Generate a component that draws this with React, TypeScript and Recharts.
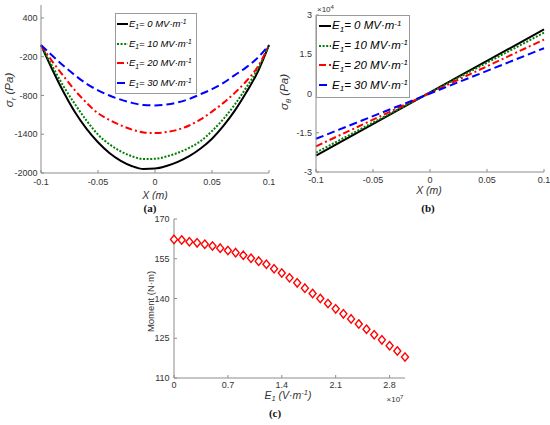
import React from 'react';
import { LineChart, Line, XAxis, YAxis, Legend, ScatterChart, Scatter, Label } from 'recharts';

// ---------- Panel (a): radial stress ----------
const positionA = [-0.1, -0.09, -0.08, -0.07, -0.06, -0.05, -0.04, -0.03, -0.02, -0.01, 0, 0.01, 0.02, 0.03, 0.04, 0.05, 0.06, 0.07, 0.08, 0.09, 0.1];
const sigmaR_E0 = [-20, -402, -755, -1065, -1318, -1525, -1690, -1812, -1895, -1938, -1932, -1892, -1828, -1740, -1622, -1469, -1270, -1035, -755, -440, -20];
const sigmaR_E10 = [-20, -350, -665, -940, -1190, -1405, -1555, -1665, -1742, -1784, -1780, -1745, -1688, -1610, -1506, -1350, -1165, -940, -680, -395, -20];
const sigmaR_E20 = [-20, -275, -505, -725, -915, -1075, -1180, -1262, -1330, -1372, -1382, -1367, -1330, -1265, -1170, -1050, -915, -760, -580, -360, -20];
const sigmaR_E30 = [-20, -185, -345, -490, -620, -720, -800, -865, -915, -949, -954, -939, -908, -855, -780, -703, -606, -485, -365, -218, -20];
const xTicksA = [-0.1, -0.05, 0, 0.05, 0.1];
const yTicksA = [-2000, -1400, -800, -200, 400];

// ---------- Panel (b): hoop stress ----------
const positionB = [-0.1, 0, 0.1];
const sigmaT_E0 = [-23700, 400, 24500];
const sigmaT_E10 = [-22570, 330, 23230];
const sigmaT_E20 = [-20200, 200, 20600];
const sigmaT_E30 = [-17300, 0, 17300];
const xTicksB = [-0.1, -0.05, 0, 0.05, 0.1];
const yTicksB = [-30000, -15000, 0, 15000, 30000];

// ---------- Panel (c): moment ----------
const fieldE1 = [0, 1e6, 2e6, 3e6, 4e6, 5e6, 6e6, 7e6, 8e6, 9e6, 10e6, 11e6, 12e6, 13e6, 14e6, 15e6, 16e6, 17e6, 18e6, 19e6, 20e6, 21e6, 22e6, 23e6, 24e6, 25e6, 26e6, 27e6, 28e6, 29e6, 30e6];
const momentValues = [162.3, 162.1, 161.4, 161.0, 160.5, 159.8, 159.0, 158.1, 157.3, 156.3, 155.2, 154.1, 152.9, 151.2, 149.6, 147.8, 145.9, 143.9, 141.9, 140.0, 138.1, 136.1, 134.2, 132.3, 130.4, 128.4, 126.3, 124.4, 122.2, 120.2, 117.9];
const xTicksC = [0, 7e6, 14e6, 21e6, 28e6];
const yTicksC = [110, 125, 140, 155, 170];

const fieldLabels = ['0', '10', '20', '30'];

const dataA = positionA.map((x, i) => ({ x, e0: sigmaR_E0[i], e10: sigmaR_E10[i], e20: sigmaR_E20[i], e30: sigmaR_E30[i] }));
const dataB = positionB.map((x, i) => ({ x, e0: sigmaT_E0[i], e10: sigmaT_E10[i], e20: sigmaT_E20[i], e30: sigmaT_E30[i] }));
const dataC = fieldE1.map((e, i) => ({ e, m: momentValues[i] }));

const seriesStyle = [
  { key: 'e0', color: '#000000', dash: undefined as string | undefined },
  { key: 'e10', color: '#008000', dash: '2 1.6' },
  { key: 'e20', color: '#FF0000', dash: '7 3 2 3' },
  { key: 'e30', color: '#0000FF', dash: '8 4' },
];

const SANS = '"Liberation Sans", Arial, Helvetica, sans-serif';
const SERIF = '"Liberation Serif", "Times New Roman", serif';
const AXIS = '#8c8c8c';
const TXT = '#333333';
const tickStyle = { fontSize: 9, fill: TXT, fontFamily: SANS };

const LegendBox = ({ fontSize, rowH, lineX, lineW, textGap }: { fontSize: number; rowH: number; lineX: number; lineW: number; textGap: number }) => (
  <div style={{ width: '100%', height: '100%', boxSizing: 'border-box', border: '1px solid #9a9a9a', background: '#fff' }}>
    {seriesStyle.map((s, i) => (
      <div key={s.key} style={{ height: rowH, display: 'flex', alignItems: 'center', paddingLeft: lineX }}>
        <svg width={lineW} height={6} style={{ flex: 'none' }}>
          <line x1={0} y1={3} x2={lineW} y2={3} stroke={s.color} strokeWidth={2} strokeDasharray={s.dash} />
        </svg>
        <span style={{ fontFamily: SANS, fontStyle: 'italic', fontSize, color: '#000', whiteSpace: 'nowrap', lineHeight: 1, marginLeft: textGap }}>
          E<span style={{ fontSize: '0.7em', position: 'relative', top: '0.35em' }}>1</span>= {fieldLabels[i]} MV·m<span style={{ fontSize: '0.7em', position: 'relative', top: '-0.45em' }}>-1</span>
        </span>
      </div>
    ))}
  </div>
);

export default function App() {
  return (
    <div style={{ position: 'absolute', left: 0, top: 0, width: 550, height: 425, background: '#fff', overflow: 'hidden' }}>
      {/* Panel (a) */}
      <div style={{ position: 'absolute', left: 0, top: 0 }}>
        <LineChart width={275} height={200} data={dataA} margin={{ top: 5, right: 6, bottom: 0, left: 0 }}>
          <XAxis dataKey="x" type="number" domain={[-0.1, 0.1]} ticks={xTicksA} interval={0} tick={tickStyle}
            tickSize={-3} tickMargin={9} height={27} axisLine={{ stroke: AXIS }} tickLine={{ stroke: AXIS }}>
            <Label content={() => (
              <text x={155} y={199} textAnchor="middle" fontFamily={SANS} fontStyle="italic" fontSize={10.5} fill={TXT}>X (m)</text>
            )} />
          </XAxis>
          <XAxis xAxisId="top" orientation="top" dataKey="x" type="number" domain={[-0.1, 0.1]} ticks={xTicksA} tick={false}
            tickSize={-3} height={0} axisLine={{ stroke: AXIS }} tickLine={{ stroke: AXIS }} />
          <YAxis type="number" domain={[-2000, 600]} ticks={yTicksA} interval={0} tick={tickStyle} width={41}
            tickSize={-3} tickMargin={6.5} axisLine={{ stroke: AXIS }} tickLine={{ stroke: AXIS }}>
            <Label content={() => (
              <text x={13} y={90} transform="rotate(-90, 13, 90)" textAnchor="middle" fontFamily={SANS} fontStyle="italic" fontSize={11.5} fill={TXT}>
                σ<tspan fontSize={8} dy={2.5}>r</tspan><tspan dy={-2.5}> (Pa)</tspan>
              </text>
            )} />
          </YAxis>
          <YAxis yAxisId="right" orientation="right" type="number" domain={[-2000, 600]} ticks={yTicksA} tick={false}
            tickSize={-3} width={0} axisLine={{ stroke: AXIS }} tickLine={{ stroke: AXIS }} />
          {seriesStyle.map((s) => (
            <Line key={s.key} dataKey={s.key} type="monotone" stroke={s.color} strokeWidth={2} strokeDasharray={s.dash}
              dot={false} isAnimationActive={false} />
          ))}
          <Legend layout="vertical" align="center" verticalAlign="middle"
            wrapperStyle={{ left: 115, top: 13, width: 82, height: 81 }}
            content={() => <LegendBox fontSize={9.5} rowH={19.7} lineX={1} lineW={11} textGap={1} />} />
        </LineChart>
      </div>

      {/* Panel (b) */}
      <div style={{ position: 'absolute', left: 275, top: 0 }}>
        <LineChart width={275} height={200} data={dataB} margin={{ top: 15, right: 6, bottom: 0, left: 0 }}>
          <XAxis dataKey="x" type="number" domain={[-0.1, 0.1]} ticks={xTicksB} interval={0} tick={tickStyle}
            tickSize={-3} tickMargin={8} height={28} axisLine={{ stroke: AXIS }} tickLine={{ stroke: AXIS }}>
            <Label content={() => (
              <text x={154} y={194} textAnchor="middle" fontFamily={SANS} fontStyle="italic" fontSize={10.5} fill={TXT}>X (m)</text>
            )} />
          </XAxis>
          <XAxis xAxisId="top" orientation="top" dataKey="x" type="number" domain={[-0.1, 0.1]} ticks={xTicksB} tick={false}
            tickSize={-3} height={0} axisLine={{ stroke: AXIS }} tickLine={{ stroke: AXIS }} />
          <YAxis type="number" domain={[-30000, 30000]} ticks={yTicksB} interval={0} tick={tickStyle} width={41}
            tickSize={-3} tickMargin={7} tickFormatter={(v: number) => String(v / 10000)}
            axisLine={{ stroke: AXIS }} tickLine={{ stroke: AXIS }}>
            <Label content={() => (
              <g>
                <text x={13} y={92} transform="rotate(-90, 13, 92)" textAnchor="middle" fontFamily={SANS} fontStyle="italic" fontSize={11.5} fill={TXT}>
                  σ<tspan fontSize={8} dy={2.5}>θ</tspan><tspan dy={-2.5}> (Pa)</tspan>
                </text>
                <text x={42} y={12} fontFamily={SANS} fontSize={8} fill={TXT}>
                  ×10<tspan fontSize={6} dy={-3}>4</tspan>
                </text>
              </g>
            )} />
          </YAxis>
          <YAxis yAxisId="right" orientation="right" type="number" domain={[-30000, 30000]} ticks={yTicksB} tick={false}
            tickSize={-3} width={0} axisLine={{ stroke: AXIS }} tickLine={{ stroke: AXIS }} />
          {seriesStyle.map((s) => (
            <Line key={s.key} dataKey={s.key} type="linear" stroke={s.color} strokeWidth={2} strokeDasharray={s.dash}
              dot={false} isAnimationActive={false} />
          ))}
          <Legend layout="vertical" align="center" verticalAlign="middle"
            wrapperStyle={{ left: 41, top: 15, width: 94, height: 83 }}
            content={() => <LegendBox fontSize={11.5} rowH={19.8} lineX={2} lineW={12} textGap={1} />} />
        </LineChart>
      </div>

      {/* Panel (c) */}
      <div style={{ position: 'absolute', left: 130, top: 210 }}>
        <ScatterChart width={285} height={200} margin={{ top: 9, right: 10, bottom: 0, left: 0 }}>
          <XAxis dataKey="e" type="number" domain={[0, 30000000]} ticks={xTicksC} interval={0} tick={tickStyle}
            tickSize={-3} tickMargin={7} height={32} tickFormatter={(v: number) => String(v / 1e7)}
            axisLine={{ stroke: AXIS }} tickLine={{ stroke: AXIS }}>
            <Label content={() => (
              <g>
                <text x={158} y={189} textAnchor="middle" fontFamily={SANS} fontStyle="italic" fontSize={10.5} fill={TXT}>
                  E<tspan fontSize={7.5} dy={2}>1</tspan><tspan dy={-2}> (V·m</tspan><tspan fontSize={7.5} dy={-4}>-1</tspan><tspan dy={4}>)</tspan>
                </text>
                <text x={265} y={192} textAnchor="middle" fontFamily={SANS} fontSize={8} fill={TXT}>
                  ×10<tspan fontSize={6} dy={-3}>7</tspan>
                </text>
              </g>
            )} />
          </XAxis>
          <XAxis xAxisId="top" orientation="top" dataKey="e" type="number" domain={[0, 30000000]} ticks={xTicksC} tick={false}
            tickSize={-3} height={0} axisLine={{ stroke: AXIS }} tickLine={{ stroke: AXIS }} />
          <YAxis dataKey="m" type="number" domain={[110, 170]} ticks={yTicksC} interval={0} tick={tickStyle} width={44}
            tickSize={-3} tickMargin={7.5} axisLine={{ stroke: AXIS }} tickLine={{ stroke: AXIS }}>
            <Label content={() => (
              <text x={23.5} y={91.5} transform="rotate(-90, 23.5, 91.5)" textAnchor="middle" fontFamily={SANS} fontSize={9.5} fill={TXT}>
                Moment (N·m)
              </text>
            )} />
          </YAxis>
          <YAxis yAxisId="right" orientation="right" type="number" domain={[110, 170]} ticks={yTicksC} tick={false}
            tickSize={-3} width={0} axisLine={{ stroke: AXIS }} tickLine={{ stroke: AXIS }} />
          <Scatter data={dataC} isAnimationActive={false}
            shape={(p: any) => (
              <path d={`M${p.cx},${p.cy - 4.2} L${p.cx + 3.5},${p.cy} L${p.cx},${p.cy + 4.2} L${p.cx - 3.5},${p.cy} Z`}
                fill="#fff" stroke="#FF0000" strokeWidth={1.4} />
            )} />
        </ScatterChart>
      </div>

      {/* Panel captions */}
      <svg width={550} height={425} style={{ position: 'absolute', left: 0, top: 0, pointerEvents: 'none' }}>
        <text x={150} y={212} textAnchor="middle" fontFamily={SERIF} fontWeight="bold" fontSize={11} fill="#111">(a)</text>
        <text x={428} y={212} textAnchor="middle" fontFamily={SERIF} fontWeight="bold" fontSize={11} fill="#111">(b)</text>
        <text x={275} y={417} textAnchor="middle" fontFamily={SERIF} fontWeight="bold" fontSize={11} fill="#111">(c)</text>
      </svg>
    </div>
  );
}
